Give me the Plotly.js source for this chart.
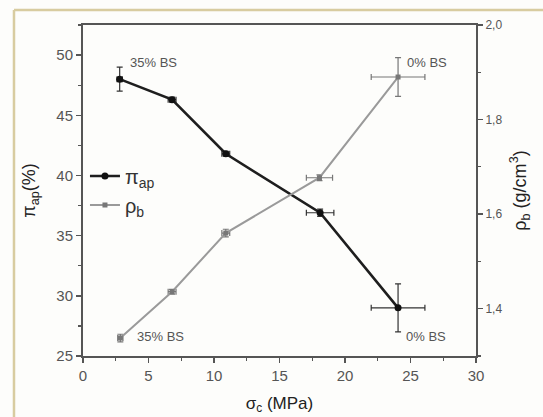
<!DOCTYPE html>
<html>
<head>
<meta charset="utf-8">
<script src="https://cdn.plot.ly/plotly-3.0.1.min.js"></script>
<style>html,body{margin:0;padding:0;background:#fdfdfb;}#chart{width:543px;height:417px;}</style>
</head>
<body>
<div id="chart"></div>
<script>
// Compressive stress sigma_c (MPa)
var sigmaPi = [2.8, 6.8, 10.9, 18.1, 24.05];
var piAp = [48.0, 46.3, 41.8, 36.9, 29.0];
var piErrY = [1.0, 0.2, 0.2, 0.3, 2.0];
var piErrX = [0.2, 0.3, 0.3, 1.05, 2.05];

var sigmaRho = [2.85, 6.8, 10.9, 18.05, 24.05];
var rhoB = [1.338, 1.436, 1.560, 1.677, 1.890];
var rhoErrY = [0.008, 0.005, 0.008, 0.006, 0.041];
var rhoErrX = [0.2, 0.3, 0.3, 1.0, 2.05];

var labels = ["35% BS", "0% BS", "35% BS", "0% BS"];
var labelX = [3.4, 24.6, 4.0, 24.5];
var labelY = [49.4, 49.4, 26.6, 26.6];

var traces = [
  {
    x: sigmaPi, y: piAp, name: "\u03c0<sub>ap</sub>", type: "scatter", mode: "lines+markers",
    line: {color: "#1e1e1e", width: 2.6}, marker: {color: "#111", size: 7, symbol: "circle"},
    error_y: {type: "data", array: piErrY, color: "#333", thickness: 1.2, width: 3},
    error_x: {type: "data", array: piErrX, color: "#333", thickness: 1.2, width: 3}
  },
  {
    x: sigmaRho, y: rhoB, name: "\u03c1<sub>b</sub>", type: "scatter", mode: "lines+markers", yaxis: "y2",
    line: {color: "#9a9a9a", width: 2}, marker: {color: "#777", size: 5, symbol: "square"},
    error_y: {type: "data", array: rhoErrY, color: "#777", thickness: 1.2, width: 3},
    error_x: {type: "data", array: rhoErrX, color: "#777", thickness: 1.2, width: 3}
  }
];

var annotations = labels.map(function(t, i) {
  return {x: labelX[i], y: labelY[i], xref: "x", yref: "y", text: t, showarrow: false,
    xanchor: "left", yanchor: "middle", font: {family: "Arial, Liberation Sans", size: 13, color: "#555"}};
});

var axisCommon = {
  showgrid: false, zeroline: false, showline: true, linecolor: "#555", linewidth: 2,
  ticks: "outside", ticklen: 5, tickwidth: 1.5, tickcolor: "#555",
  tickfont: {family: "Arial, Liberation Sans", size: 15, color: "#555"},
  minor: {ticks: "outside", ticklen: 3, tickwidth: 1.2, tickcolor: "#555"}
};

var layout = {
  width: 543, height: 417,
  margin: {l: 83, r: 67, t: 25, b: 61},
  paper_bgcolor: "#fdfdfb", plot_bgcolor: "#fdfdfb",
  separators: ", ",
  showlegend: true,
  legend: {x: 0.005, y: 0.5, xanchor: "left", yanchor: "middle", bgcolor: "rgba(0,0,0,0)",
    font: {family: "Arial, Liberation Sans", size: 20, color: "#333"}},
  xaxis: Object.assign({}, axisCommon, {
    range: [0, 30], dtick: 5, tick0: 0, mirror: true,
    minor: {ticks: "outside", ticklen: 3, tickwidth: 1.2, tickcolor: "#555", dtick: 2.5},
    title: {text: "\u03c3<sub>c</sub> (MPa)", standoff: 14, font: {family: "Arial, Liberation Sans", size: 17, color: "#222"}}
  }),
  yaxis: Object.assign({}, axisCommon, {
    range: [25, 52.5], dtick: 5, tick0: 25,
    minor: {ticks: "outside", ticklen: 3, tickwidth: 1.2, tickcolor: "#555", dtick: 2.5},
    title: {text: "\u03c0<sub>ap</sub>(%)", standoff: 16, font: {family: "Arial, Liberation Sans", size: 18, color: "#222"}}
  }),
  yaxis2: Object.assign({}, axisCommon, {
    overlaying: "y", side: "right", range: [1.3, 2.0], dtick: 0.2, tick0: 1.4, tickformat: ".1f",
    tickfont: {family: "Arial, Liberation Sans", size: 12, color: "#555"},
    minor: {ticks: "outside", ticklen: 3, tickwidth: 1.2, tickcolor: "#555", dtick: 0.1},
    title: {text: "\u03c1<sub>b</sub> (g/cm<sup>3</sup>)", standoff: 12, font: {family: "Arial, Liberation Sans", size: 18, color: "#222"}}
  }),
  annotations: annotations,
  shapes: [
    {type: "line", xref: "paper", yref: "paper", x0: -0.1756, x1: -0.1756, y0: -0.2, y1: 1.0453,
      line: {color: "#d8cca0", width: 2.5}},
    {type: "line", xref: "paper", yref: "paper", x0: -0.1756, x1: 1.2, y0: 1.0453, y1: 1.0453,
      line: {color: "#d8cca0", width: 2.5}}
  ]
};

Plotly.newPlot("chart", traces, layout, {displayModeBar: false, staticPlot: true});
</script>
</body>
</html>
